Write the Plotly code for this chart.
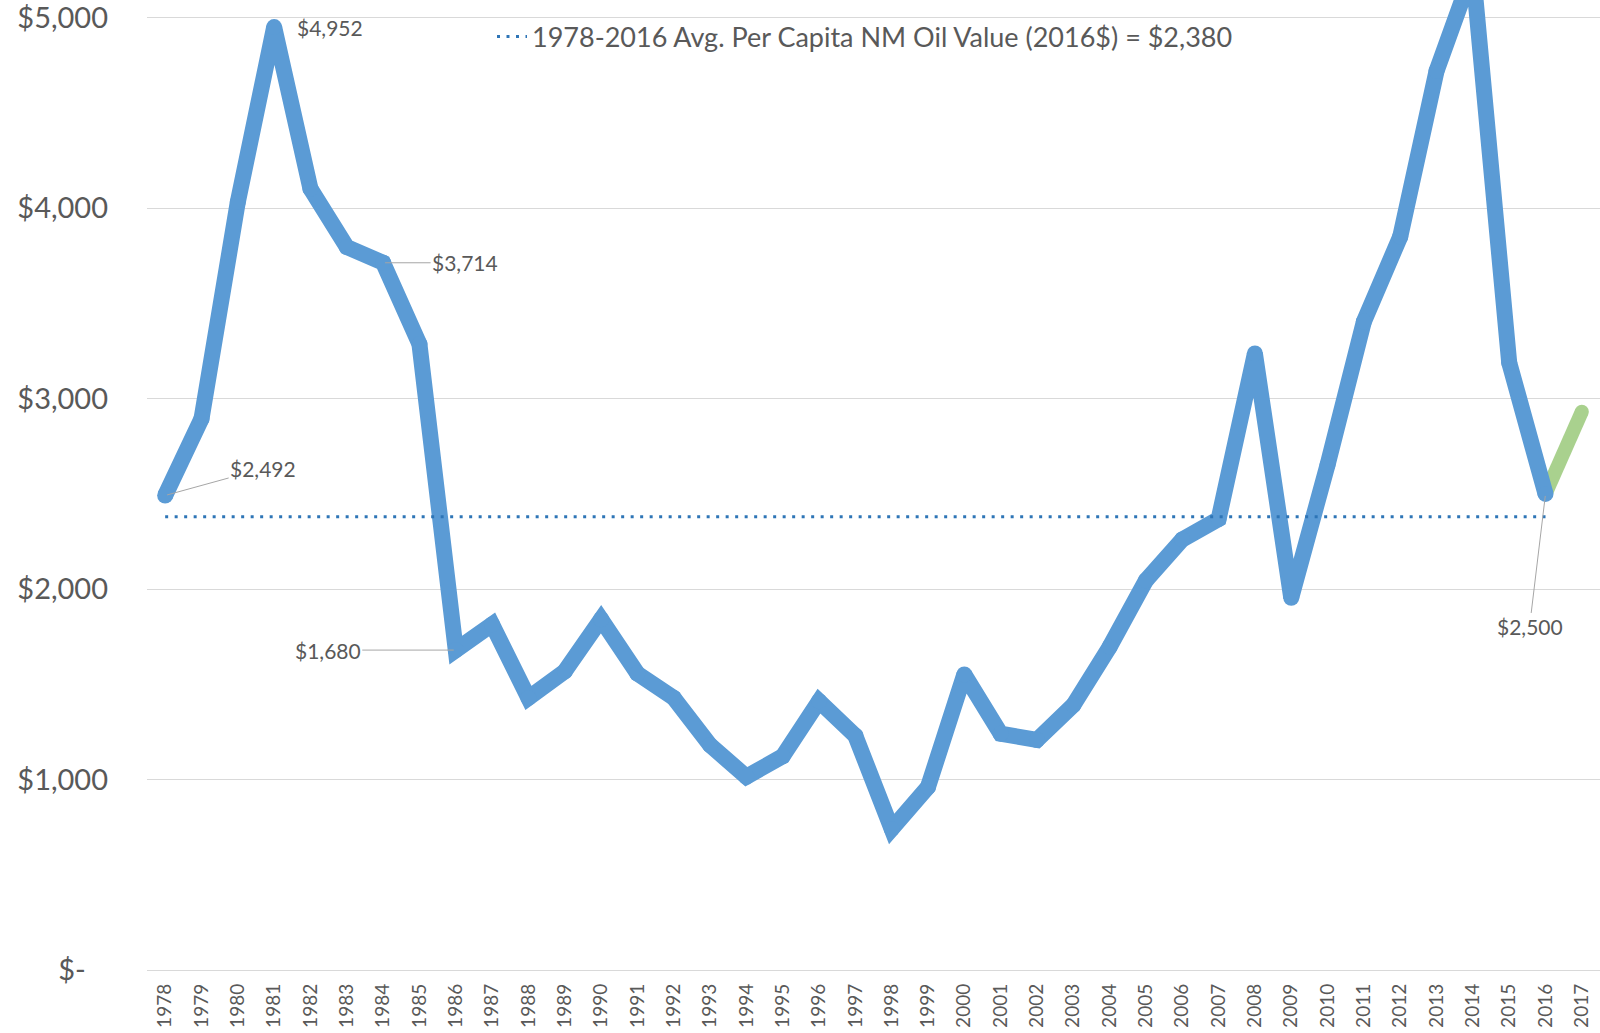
import plotly.graph_objects as go

# ---- data ----
years = [str(y) for y in range(1978, 2017)]
oil_value = [2492, 2895, 4033, 4952, 4103, 3797, 3714, 3287, 1680, 1815,
             1429, 1568, 1842, 1557, 1429, 1181, 1015, 1122, 1412, 1230,
             741, 961, 1552, 1241, 1208, 1391, 1697, 2046, 2261, 2368,
             3238, 1955, 2653, 3405, 3851, 4721, 5250, 3190, 2500]
proj_years = ["2016", "2017"]
proj_value = [2500, 2932]
avg_years = ["1978", "2016"]
avg_value = [2380, 2380]
all_years = [str(y) for y in range(1978, 2018)]
y_ticks = [0, 1000, 2000, 3000, 4000, 5000]
y_ticktext = ["$-\u00a0\u00a0\u00a0", "$1,000", "$2,000", "$3,000", "$4,000", "$5,000"]

GRAY = "#595959"
FONT = "Lato"

fig = go.Figure()

# 预测段(绿)在下, 主线在上; 圆点模拟圆角连接
fig.add_trace(go.Scatter(
    x=proj_years, y=proj_value, mode="lines+markers",
    line=dict(color="#A9D18E", width=14),
    marker=dict(color="#A9D18E", size=14, line=dict(width=0)),
    showlegend=False, hoverinfo="skip",
))
fig.add_trace(go.Scatter(
    x=years, y=oil_value, mode="lines+markers",
    line=dict(color="#5B9BD5", width=16),
    marker=dict(color="#5B9BD5", size=16, line=dict(width=0)),
    showlegend=False,
))
fig.add_trace(go.Scatter(
    x=avg_years, y=avg_value, mode="lines",
    line=dict(color="#2E75B6", width=3, dash="3px,6.5px"),
    name="1978-2016 Avg. Per Capita NM Oil Value (2016$) = $2,380",
))

# 数据标签 (年份, 值, 偏移x, 偏移y, 是否引线)
labels = [
    ("1978", 2492, 98, -27, True),
    ("1981", 4952, 56, 0, False),
    ("1984", 3714, 82, 0, True),
    ("1986", 1680, -128, 0, True),
    ("2016", 2500, -16, 133, True),
]
for yr, val, ax, ay, arrow in labels:
    fig.add_annotation(
        x=all_years.index(yr), y=val, text=f"${val:,}", showarrow=True,
        ax=ax, ay=ay, arrowhead=0, arrowwidth=1, standoff=2,
        arrowcolor="#A6A6A6" if arrow else "rgba(0,0,0,0)",
        font=dict(family=FONT, size=21, color=GRAY),
    )

fig.update_layout(
    width=1600, height=1033,
    margin=dict(l=147, r=0, t=0, b=63),
    paper_bgcolor="white", plot_bgcolor="white",
    font=dict(family=FONT, color=GRAY),
    showlegend=True,
    legend=dict(
        x=(492 - 147) / 1453, y=1 - 37 / 970, xanchor="left", yanchor="middle",
        bgcolor="rgba(0,0,0,0)", font=dict(family=FONT, size=27, color=GRAY),
    ),
    xaxis=dict(
        type="category", categoryorder="array", categoryarray=all_years,
        tickvals=all_years, ticktext=all_years, automargin=False,
        range=[-0.5, 39.5], tickangle=-90, showgrid=False,
        showline=False, zeroline=False, ticks="", ticklabelstandoff=9,
        tickfont=dict(family=FONT, size=19, color=GRAY),
    ),
    yaxis=dict(
        range=[0, 5094], tickvals=y_ticks, ticktext=y_ticktext, automargin=False,
        showgrid=True, gridcolor="#D9D9D9", gridwidth=1,
        zeroline=True, zerolinecolor="#D9D9D9", zerolinewidth=1,
        showline=False, ticks="", ticklabelstandoff=38,
        ticklabeloverflow="allow",
        tickfont=dict(family=FONT, size=29, color=GRAY),
    ),
)

# 去掉 body 默认 8px 边距, 让图贴满窗口
fig.write_html(
    "out.html",
    config={"displayModeBar": False},
    post_script="document.body.style.margin='0';document.body.style.overflow='hidden';",
)
